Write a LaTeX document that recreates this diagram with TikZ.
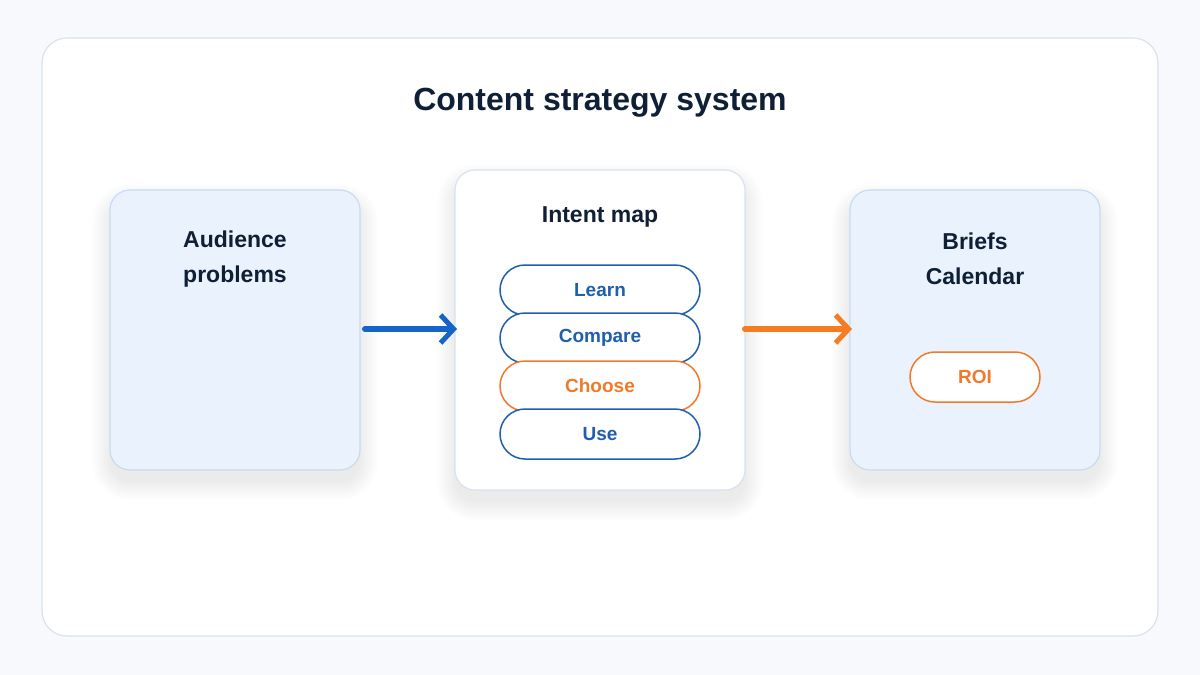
\documentclass[tikz,border=0pt]{standalone}
\usepackage{fontspec}
\setmainfont{Liberation Sans}
\usetikzlibrary{arrows.meta}
\definecolor{bg}{HTML}{F7F9FC}
\definecolor{panelb}{HTML}{D9E2EE}
\definecolor{ink}{HTML}{0F1F36}
\definecolor{boxf}{HTML}{EAF3FD}
\definecolor{boxb}{HTML}{C9DBEF}
\definecolor{pblue}{HTML}{1F5FAE}
\definecolor{porange}{HTML}{F07A2A}
\definecolor{ablue}{HTML}{1565C8}
\definecolor{aorange}{HTML}{F57C20}
\definecolor{shad}{HTML}{2A3B55}
\tikzset{
 card/.style={draw=boxb,fill=boxf,line width=1.2pt,rounded corners=20pt},
 wcard/.style={card,fill=white,draw=panelb},
 lbl/.style={font=\fontsize{23}{35}\selectfont\bfseries,text=ink,align=center},
 pill/.style={draw=pblue,fill=white,line width=1.5pt,rounded corners=25pt,minimum width=200pt,minimum height=50pt,text=pblue,font=\fontsize{19}{20}\selectfont\bfseries},
 opill/.style={pill,draw=porange,text=porange},
 arr/.style={line width=6pt,-{Straight Barb[length=13pt,width=28pt,line width=5pt]},line cap=round}
}
\newcommand{\softshadow}[4]{%
 \foreach \k in {0,2,...,18}{%
  \fill[shad,opacity=0.009,rounded corners=20pt+\k pt] (#1-\k,#2-\k+12) rectangle (#3+\k,#4+\k+12);}}
\begin{document}
\begin{tikzpicture}[x=1pt,y=-1pt]
\useasboundingbox (0,0) rectangle (1200,675);
\fill[bg] (0,0) rectangle (1200,675);
\draw[panelb,fill=white,line width=1.2pt,rounded corners=25pt] (42,38) rectangle (1158,636);
\node[font=\fontsize{32}{38}\selectfont\bfseries,text=ink] (title) at (600,103) {Content strategy system};
\softshadow{110}{190}{360}{470}
\softshadow{455}{170}{745}{490}
\softshadow{850}{190}{1100}{470}
\path[card] (110,190) rectangle (360,470);
\node[lbl] (aud) at (235,259) {Audience\\problems};
\path[wcard] (455,170) rectangle (745,490);
\node[lbl] (im) at (600,217) {Intent map};
\node[pill] (learn) at (600,290) {Learn};
\node[pill] (comp) at (600,338) {Compare};
\node[opill] (choose) at (600,386) {Choose};
\node[pill] (use) at (600,434) {Use};
\path[card] (850,190) rectangle (1100,470);
\node[lbl] (bc) at (975,259) {Briefs\\Calendar};
\node[opill,minimum width=130pt] (roi) at (975,377) {ROI};
\coordinate (a1) at (365,329); \coordinate (a2) at (457,329);
\coordinate (b1) at (745,329); \coordinate (b2) at (852,329);
\draw[arr,ablue] (a1) -- (a2);
\draw[arr,aorange] (b1) -- (b2);
\end{tikzpicture}
\end{document}
